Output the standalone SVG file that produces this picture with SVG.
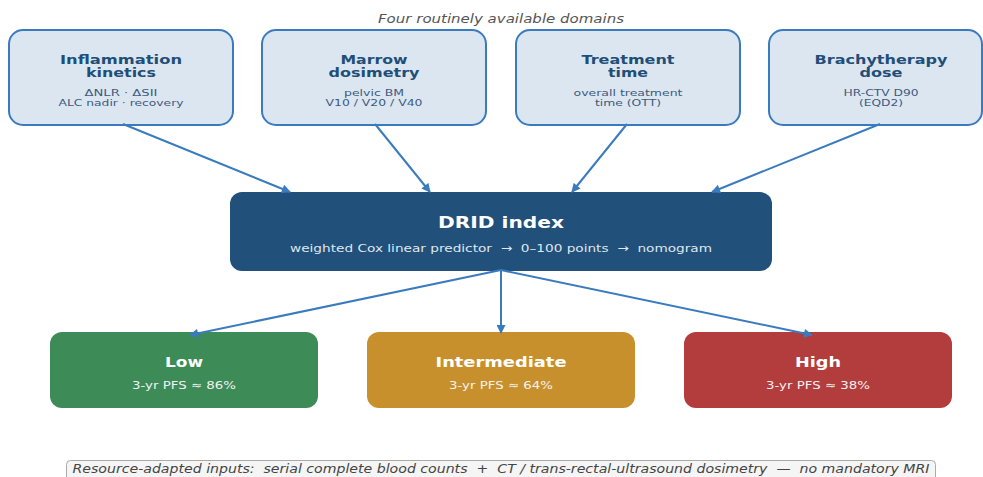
<svg xmlns="http://www.w3.org/2000/svg" width="983" height="477" viewBox="0 0 983 477" xml:space="preserve">
<style>
text{white-space:pre}
.dom{fill:#dce6f0;stroke:#3a7bbf;stroke-width:2}
.dt{font-family:"DejaVu Sans",sans-serif;font-weight:bold;font-size:12.5px;fill:#1f4e79;text-anchor:middle}
.ds{font-family:"DejaVu Sans",sans-serif;font-size:9.5px;fill:#3d5a80;text-anchor:middle}
.con line{stroke:#3a7bbf;stroke-width:2;marker-end:url(#ah)}
.rt{font-family:"DejaVu Sans",sans-serif;font-weight:bold;font-size:14px;fill:#ffffff;text-anchor:middle}
.rs{font-family:"DejaVu Sans",sans-serif;font-size:11px;fill:#f2f2f2;text-anchor:middle}
</style>
<defs>
<marker id="ah" viewBox="0 0 10 10" refX="9" refY="5" markerWidth="10" markerHeight="9" markerUnits="userSpaceOnUse" orient="auto">
<path d="M0,0 L10,5 L0,10 z" fill="#3a7bbf"/>
</marker>
</defs>
<rect width="983" height="477" fill="#ffffff"/>
<text x="501" y="23" font-family="DejaVu Sans,sans-serif" font-style="italic" font-size="12" fill="#555" text-anchor="middle" textLength="246" lengthAdjust="spacingAndGlyphs">Four routinely available domains</text>

<g id="inflammation">
<rect class="dom" x="9" y="30" width="224" height="95" rx="14"/>
<text class="dt" x="121" y="64" textLength="122" lengthAdjust="spacingAndGlyphs">Inflammation</text>
<text class="dt" x="121" y="77" textLength="70" lengthAdjust="spacingAndGlyphs">kinetics</text>
<text class="ds" x="121" y="96" textLength="73" lengthAdjust="spacingAndGlyphs">ΔNLR · ΔSII</text>
<text class="ds" x="121" y="106" textLength="125" lengthAdjust="spacingAndGlyphs">ALC nadir · recovery</text>
</g>
<g id="marrow">
<rect class="dom" x="262" y="30" width="224" height="95" rx="14"/>
<text class="dt" x="374" y="64" textLength="67" lengthAdjust="spacingAndGlyphs">Marrow</text>
<text class="dt" x="374" y="77" textLength="91" lengthAdjust="spacingAndGlyphs">dosimetry</text>
<text class="ds" x="374" y="96" textLength="60" lengthAdjust="spacingAndGlyphs">pelvic BM</text>
<text class="ds" x="374" y="106" textLength="97" lengthAdjust="spacingAndGlyphs">V10 / V20 / V40</text>
</g>
<g id="treatment">
<rect class="dom" x="516" y="30" width="224" height="95" rx="14"/>
<text class="dt" x="628" y="64" textLength="93" lengthAdjust="spacingAndGlyphs">Treatment</text>
<text class="dt" x="628" y="77" textLength="40" lengthAdjust="spacingAndGlyphs">time</text>
<text class="ds" x="628" y="96" textLength="109" lengthAdjust="spacingAndGlyphs">overall treatment</text>
<text class="ds" x="628" y="106" textLength="66" lengthAdjust="spacingAndGlyphs">time (OTT)</text>
</g>
<g id="brachy">
<rect class="dom" x="769" y="30" width="213" height="95" rx="14"/>
<text class="dt" x="881" y="64" textLength="133" lengthAdjust="spacingAndGlyphs">Brachytherapy</text>
<text class="dt" x="881" y="77" textLength="43" lengthAdjust="spacingAndGlyphs">dose</text>
<text class="ds" x="881" y="96" textLength="75" lengthAdjust="spacingAndGlyphs">HR-CTV D90</text>
<text class="ds" x="881" y="106" textLength="44" lengthAdjust="spacingAndGlyphs">(EQD2)</text>
</g>

<g id="drid">
<rect x="230" y="192" width="542" height="79" rx="12" fill="#21507a"/>
<text x="501" y="228" font-family="DejaVu Sans,sans-serif" font-weight="bold" font-size="16" fill="#ffffff" text-anchor="middle" textLength="126" lengthAdjust="spacingAndGlyphs">DRID index</text>
<text x="501" y="252" font-family="DejaVu Sans,sans-serif" font-size="11" fill="#dfe7f0" text-anchor="middle" textLength="422" lengthAdjust="spacingAndGlyphs">weighted Cox linear predictor  →  0–100 points  →  nomogram</text>
</g>

<g id="low">
<rect x="50" y="332" width="268" height="76" rx="12" fill="#3d8b57"/>
<text class="rt" x="184" y="367" textLength="38" lengthAdjust="spacingAndGlyphs">Low</text>
<text class="rs" x="184" y="389" textLength="104" lengthAdjust="spacingAndGlyphs">3-yr PFS ≈ 86%</text>
</g>
<g id="intermediate">
<rect x="367" y="332" width="268" height="76" rx="12" fill="#c8902c"/>
<text class="rt" x="501" y="367" textLength="131" lengthAdjust="spacingAndGlyphs">Intermediate</text>
<text class="rs" x="501" y="389" textLength="104" lengthAdjust="spacingAndGlyphs">3-yr PFS ≈ 64%</text>
</g>
<g id="high">
<rect x="684" y="332" width="268" height="76" rx="12" fill="#b33c3c"/>
<text class="rt" x="818" y="367" textLength="46" lengthAdjust="spacingAndGlyphs">High</text>
<text class="rs" x="818" y="389" textLength="104" lengthAdjust="spacingAndGlyphs">3-yr PFS ≈ 38%</text>
</g>

<g class="con" id="connectors">
<line x1="123" y1="124" x2="290" y2="192"/>
<line x1="375" y1="124" x2="430" y2="192"/>
<line x1="627" y1="124" x2="572" y2="192"/>
<line x1="880" y1="124" x2="712" y2="192"/>
<line x1="501" y1="270" x2="190" y2="335"/>
<line x1="501" y1="270" x2="501" y2="333"/>
<line x1="501" y1="270" x2="812" y2="335"/>
</g>

<g id="footer">
<rect x="66.5" y="460.5" width="869" height="24" rx="4" fill="#f5f5f5" stroke="#aaaaaa" stroke-width="1"/>
<text x="501" y="473" font-family="DejaVu Sans,sans-serif" font-style="italic" font-size="11.5" fill="#444" text-anchor="middle" textLength="857" lengthAdjust="spacingAndGlyphs">Resource-adapted inputs:  serial complete blood counts  +  CT / trans-rectal-ultrasound dosimetry  —  no mandatory MRI</text>
</g>
</svg>
